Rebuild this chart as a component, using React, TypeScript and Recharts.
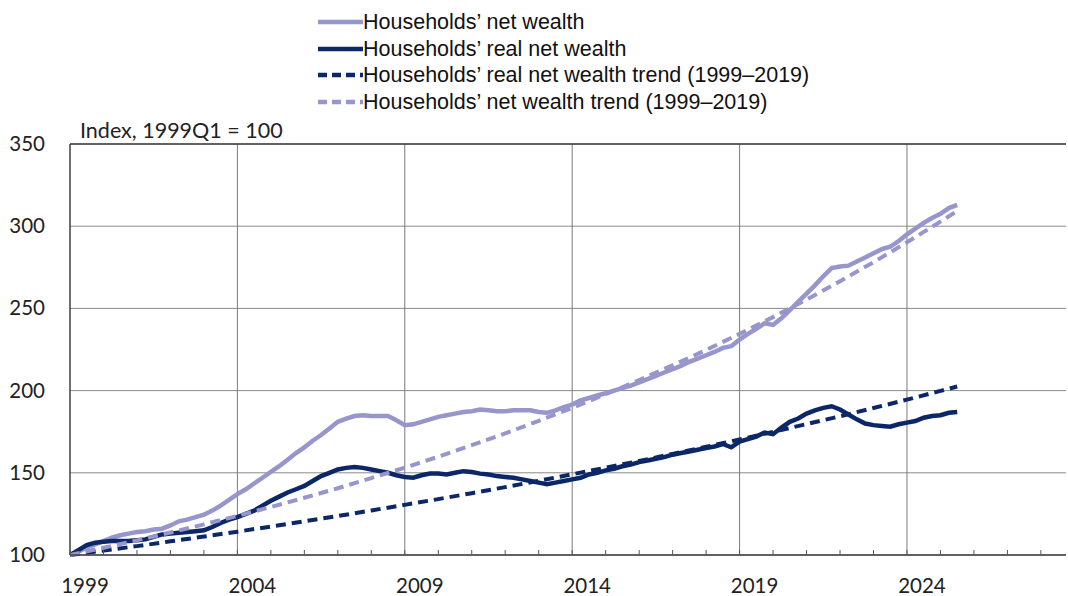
import { LineChart, Line, XAxis, YAxis, CartesianGrid, ReferenceLine } from "recharts";

// quarterly index, 1999Q1 = 100
const startYear = 1999;

const netWealth = [
  100, 102, 104.5, 106.5, 108.5, 110.5, 112, 113, 114, 114.5, 115.5, 116,
  118, 120.5, 121.5, 123, 124.5, 127, 130, 133.5, 137, 140, 143.5, 147,
  150.5, 154, 158, 162, 165.5, 169.5, 173, 177, 181, 183, 184.5, 185,
  184.5, 184.5, 184.5, 182, 179, 179.5, 181, 182.5, 184, 185, 186, 187,
  187.5, 188.5, 188, 187.5, 187.5, 188, 188, 188, 187, 186.5, 188, 190,
  191.5, 194, 195.5, 197, 198.5, 200, 201.5, 203, 205, 207, 209, 211,
  213, 215, 217.5, 219.5, 221.5, 223.5, 226, 227, 231, 234.5, 237.5, 241,
  240, 244, 249, 254, 259, 264, 269.5, 274.5, 275.5, 276, 278.5, 281,
  283.5, 286, 287.5, 291, 295, 298.5, 302, 305, 307.5, 311, 313,
];

const realNetWealth = [
  100, 103, 106, 107.5, 108, 108.5, 108.5, 108.5, 109, 109.5, 111, 112.5,
  113, 113.5, 114, 114.5, 115, 117, 119.5, 121.5, 123, 125, 127, 130,
  133, 135.5, 138, 140, 142, 145, 148, 150, 152, 153, 153.5, 153,
  152, 151, 150, 148.5, 147.5, 147, 148.5, 149.5, 149.5, 149, 150, 151,
  150.5, 149.5, 149, 148, 147.5, 147, 146, 145, 144, 143, 144, 145,
  146, 147, 149, 150, 151.5, 152.5, 154, 155, 156.5, 157.5, 158.5, 159.5,
  161, 162, 163, 164, 165, 166, 167.5, 165.5, 169, 170.5, 172, 174.5,
  173.5, 177.5, 181, 183, 186, 188, 189.5, 190.5, 188.5, 185.5, 182.5, 180,
  179, 178.5, 178, 179.5, 180.5, 181.5, 183.5, 184.5, 185, 186.5, 187,
];

// trend lines, read at each Q1 plus the last quarter
const trendQuarters = [
  0, 4, 8, 12, 16, 20, 24, 28, 32, 36, 40, 44, 48, 52, 56, 60, 64, 68, 72, 76,
  80, 84, 88, 92, 96, 100, 104, 106,
];
const realTrend = [
  100, 102.7, 105.4, 108.3, 111.2, 114.2, 117.3, 120.5, 123.7, 127.1, 130.5,
  134, 137.6, 141.3, 145.1, 149.1, 153.1, 157.2, 161.5, 165.8, 170.3, 174.9,
  179.6, 184.4, 189.4, 194.5, 199.8, 202.5,
];
const netTrend = [
  100, 104.4, 108.9, 113.7, 118.6, 123.8, 129.2, 134.8, 140.6, 146.8, 153.1,
  159.8, 166.8, 174, 181.6, 189.5, 197.8, 206.4, 215.4, 224.7, 234.5, 244.7,
  255.4, 266.5, 278.1, 290.2, 302.8, 309.3,
];

const yTicks = [100, 150, 200, 250, 300, 350];
const axisYears = [
  1999, 2000, 2001, 2002, 2003, 2004, 2005, 2006, 2007, 2008, 2009, 2010,
  2011, 2012, 2013, 2014, 2015, 2016, 2017, 2018, 2019, 2020, 2021, 2022,
  2023, 2024, 2025, 2026, 2027, 2028,
];
const labelYears = [1999, 2004, 2009, 2014, 2019, 2024];

const LIGHT = "#9696cc";
const DARK = "#0b2767";
const AXIS_FONT = "Lato, 'Open Sans', sans-serif";

const netData = netWealth.map((v, i) => ({ q: i, v }));
const realData = realNetWealth.map((v, i) => ({ q: i, v }));
const realTrendData = trendQuarters.map((q, i) => ({ q, v: realTrend[i] }));
const netTrendData = trendQuarters.map((q, i) => ({ q, v: netTrend[i] }));

const legendItems = [
  { label: "Households’ net wealth", color: LIGHT, dashed: false },
  { label: "Households’ real net wealth", color: DARK, dashed: false },
  { label: "Households’ real net wealth trend (1999–2019)", color: DARK, dashed: true },
  { label: "Households’ net wealth trend (1999–2019)", color: LIGHT, dashed: true },
];

const XTick = (props: any) => {
  const { x, y, payload } = props;
  const year = startYear + payload.value / 4;
  return (
    <g>
      <line x1={x} x2={x} y1={y} y2={y - 5} stroke="#555" strokeWidth={1} />
      {labelYears.includes(year) && (
        <text x={x + 15} y={y + 38} textAnchor="middle" fontSize={20.5} fill="#222" fontFamily={AXIS_FONT}>
          {year}
        </text>
      )}
    </g>
  );
};

const YTick = (props: any) => {
  const { x, y, payload } = props;
  return (
    <text x={x} y={y + 7} textAnchor="end" fontSize={20.5} fill="#222" fontFamily={AXIS_FONT}>
      {payload.value}
    </text>
  );
};

export default function App() {
  return (
    <div style={{ position: "fixed", left: 0, top: 0, width: 1068, height: 596, background: "#fff" }}>
      <div
        style={{
          position: "absolute",
          left: 318,
          top: 9,
          fontFamily: "'Liberation Sans', Arial, sans-serif",
          fontSize: 21.5,
          lineHeight: "26.5px",
          color: "#111",
          whiteSpace: "nowrap",
        }}
      >
        {legendItems.map((item) => (
          <div key={item.label} style={{ display: "flex", alignItems: "center" }}>
            <svg width={45} height={10}>
              <line
                x1={0}
                x2={45}
                y1={5}
                y2={5}
                stroke={item.color}
                strokeWidth={4.5}
                strokeDasharray={item.dashed ? "9 5" : undefined}
              />
            </svg>
            <span>{item.label}</span>
          </div>
        ))}
      </div>
      <div
        style={{
          position: "absolute",
          left: 80,
          top: 117,
          fontFamily: AXIS_FONT,
          fontSize: 21.5,
          color: "#222",
          whiteSpace: "nowrap",
        }}
      >
        Index, 1999Q1 = 100
      </div>
      <LineChart width={1068} height={596} margin={{ top: 144, right: 2, left: 0, bottom: 0 }}>
        <CartesianGrid vertical={false} stroke="#8a8a8a" strokeWidth={1} />
        <XAxis
          dataKey="q"
          type="number"
          domain={[0, 119]}
          ticks={axisYears.map((y) => (y - startYear) * 4)}
          tick={<XTick />}
          tickLine={false}
          tickSize={0}
          tickMargin={0}
          height={41}
          axisLine={{ stroke: "#404040", strokeWidth: 1.5 }}
          allowDataOverflow
        />
        <YAxis
          type="number"
          domain={[100, 350]}
          ticks={yTicks}
          tick={<YTick />}
          tickLine={false}
          tickSize={0}
          tickMargin={25}
          width={70}
          axisLine={{ stroke: "#404040", strokeWidth: 1.5 }}
        />
        {labelYears.slice(1).map((y) => (
          <ReferenceLine key={y} x={(y - startYear) * 4} stroke="#7a7a7a" strokeWidth={1} />
        ))}
        <ReferenceLine y={350} stroke="#404040" strokeWidth={1.5} />
        <Line data={netData} dataKey="v" type="linear" stroke={LIGHT} strokeWidth={4.5} dot={false} isAnimationActive={false} />
        <Line data={realData} dataKey="v" type="linear" stroke={DARK} strokeWidth={4.5} dot={false} isAnimationActive={false} />
        <Line data={realTrendData} dataKey="v" type="linear" stroke={DARK} strokeWidth={4} strokeDasharray="10 6" dot={false} isAnimationActive={false} />
        <Line data={netTrendData} dataKey="v" type="linear" stroke={LIGHT} strokeWidth={4} strokeDasharray="10 6" dot={false} isAnimationActive={false} />
      </LineChart>
    </div>
  );
}
